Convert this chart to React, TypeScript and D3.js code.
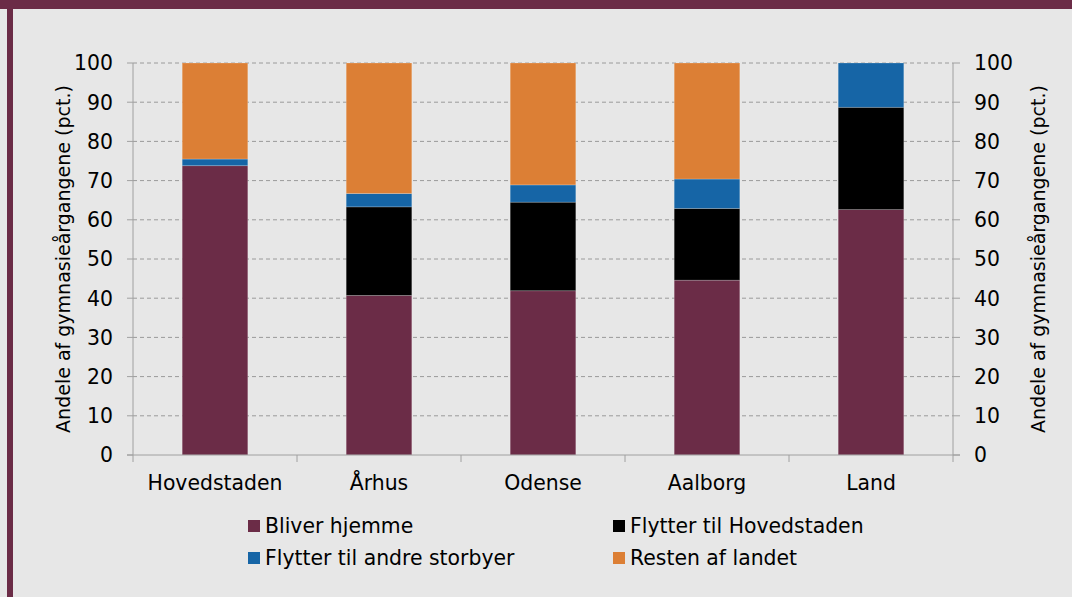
import React from "react";
import * as d3 from "d3";

const categories = ["Hovedstaden", "Århus", "Odense", "Aalborg", "Land"];
const seriesNames = ["Bliver hjemme", "Flytter til Hovedstaden", "Flytter til andre storbyer", "Resten af landet"];
const bliverHjemme = [73.8, 40.7, 41.9, 44.6, 62.6];
const flytterHovedstaden = [0, 22.6, 22.6, 18.3, 26.1];
const flytterAndre = [1.7, 3.4, 4.4, 7.5, 11.3];
const restenAfLandet = categories.map((_, i) => Math.max(0, 100 - bliverHjemme[i] - flytterHovedstaden[i] - flytterAndre[i]));
const yTicks = [0, 10, 20, 30, 40, 50, 60, 70, 80, 90, 100];
const yTitle = "Andele af gymnasieårgangene (pct.)";

const colors = ["#6b2c47", "#000000", "#1665a6", "#dc7f35"];
const FONT = "'DejaVu Sans', Verdana, sans-serif";

export default function App() {
  const W = 1072, H = 597;
  const left = 133, right = 953, top = 63, bottom = 455;
  const x = d3.scaleBand<string>().domain(categories).range([left, right]).paddingInner(0.6).paddingOuter(0.3);
  const xOuter = d3.scaleBand<string>().domain(categories).range([left, right]);
  const y = d3.scaleLinear().domain([0, 100]).range([bottom, top]);

  const table = categories.map((c, i) => ({
    cat: c,
    s0: bliverHjemme[i],
    s1: flytterHovedstaden[i],
    s2: flytterAndre[i],
    s3: restenAfLandet[i],
  }));
  const stack = d3.stack<any>().keys(["s0", "s1", "s2", "s3"])(table);

  const fs = 20.4;
  const legendItems = [
    { name: seriesNames[0], color: colors[0], lx: 248, ly: 520 },
    { name: seriesNames[1], color: colors[1], lx: 613, ly: 520 },
    { name: seriesNames[2], color: colors[2], lx: 248, ly: 552 },
    { name: seriesNames[3], color: colors[3], lx: 613, ly: 552 },
  ];

  return (
    <svg width={W} height={H} style={{ position: "fixed", left: 0, top: 0 }} fontFamily={FONT}>
      <rect x={0} y={0} width={W} height={H} fill="#e7e7e7" />
      <rect x={0} y={0} width={W} height={9} fill="#6b2c47" />
      <rect x={7} y={0} width={6} height={H} fill="#6b2c47" />

      {/* grid */}
      {yTicks.filter((t) => t > 0).map((t) => (
        <line key={"g" + t} x1={left} x2={right} y1={y(t)} y2={y(t)} stroke="#9a9a9a" strokeWidth={1} strokeDasharray="4,3" />
      ))}

      {/* bars */}
      {stack.map((layer, si) =>
        layer.map((d, i) => {
          const h = y(d[0]) - y(d[1]);
          if (h <= 0) return null;
          return (
            <rect key={si + "-" + i} x={x(categories[i])} width={x.bandwidth()} y={y(d[1])} height={h}
              fill={colors[si]} stroke="rgba(255,255,255,0.25)" strokeWidth={0.8} />
          );
        })
      )}

      {/* axes */}
      <line x1={left} x2={left} y1={top} y2={bottom} stroke="#a0a0a0" />
      <line x1={right} x2={right} y1={top} y2={bottom} stroke="#a0a0a0" />
      <line x1={left - 6} x2={right + 7} y1={bottom} y2={bottom} stroke="#a0a0a0" />
      {yTicks.map((t) => (
        <g key={"t" + t}>
          <line x1={left - 6} x2={left} y1={y(t)} y2={y(t)} stroke="#a0a0a0" />
          <line x1={right} x2={right + 7} y1={y(t)} y2={y(t)} stroke="#a0a0a0" />
          <text x={113} y={y(t)} dy="0.36em" textAnchor="end" fontSize={fs} fill="#000">{t}</text>
          <text x={974} y={y(t)} dy="0.36em" textAnchor="start" fontSize={fs} fill="#000">{t}</text>
        </g>
      ))}
      {categories.map((c) => (
        <line key={"ct" + c} x1={xOuter(c)} x2={xOuter(c)} y1={bottom} y2={bottom + 7} stroke="#a0a0a0" />
      ))}
      <line x1={right} x2={right} y1={bottom} y2={bottom + 7} stroke="#a0a0a0" />
      {categories.map((c) => (
        <text key={"cl" + c} x={(x(c) as number) + x.bandwidth() / 2} y={490} textAnchor="middle" fontSize={fs} fill="#000">{c}</text>
      ))}

      <text transform={`translate(70,${(top + bottom) / 2}) rotate(-90)`} textAnchor="middle" fontSize={19} fill="#000">{yTitle}</text>
      <text transform={`translate(1045,${(top + bottom) / 2}) rotate(-90)`} textAnchor="middle" fontSize={19} fill="#000">{yTitle}</text>

      {legendItems.map((l) => (
        <g key={l.name}>
          <rect x={l.lx} y={l.ly} width={12} height={12} fill={l.color} />
          <text x={l.lx + 17} y={l.ly + 6} dy="0.36em" fontSize={fs} fill="#000">{l.name}</text>
        </g>
      ))}
    </svg>
  );
}
